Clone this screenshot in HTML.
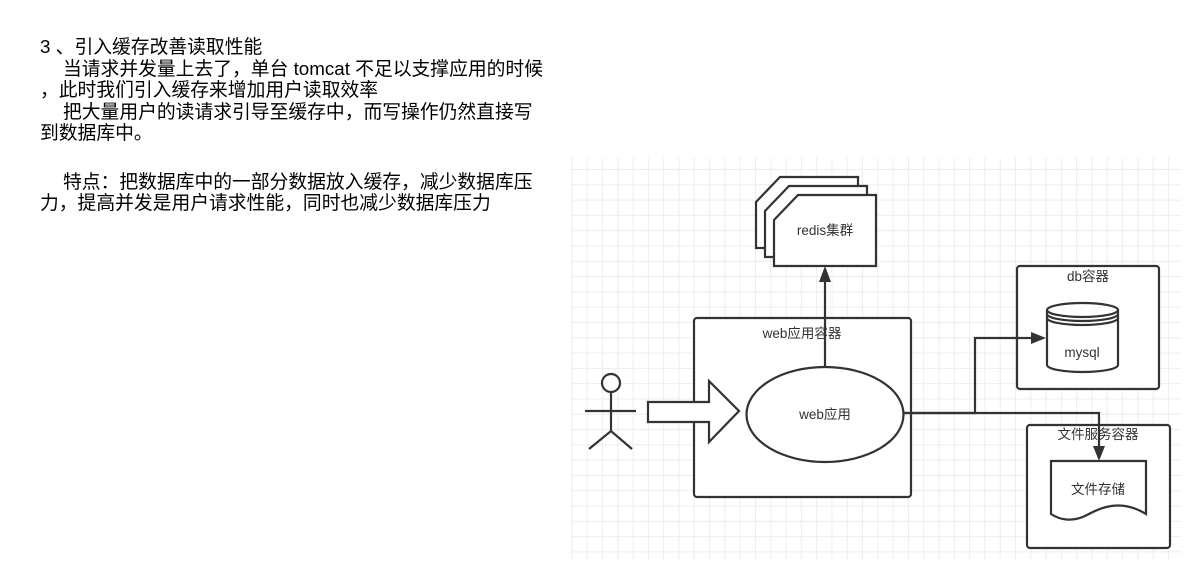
<!DOCTYPE html>
<html><head><meta charset="utf-8"><style>
html,body{margin:0;padding:0;background:#fff;}
body{width:1204px;height:588px;position:relative;overflow:hidden;font-family:"Liberation Sans","Noto Sans CJK SC",sans-serif;}
.t{position:absolute;left:40px;top:36px;font-size:18.8px;line-height:21.5px;color:#000;white-space:nowrap;}
.t div{height:21.5px;}
.t div.b{height:27px;}
.i{padding-left:23px;}
.grid{position:absolute;left:571px;top:158px;width:610px;height:401px;
background-image:linear-gradient(to right,#ededed 1px,transparent 1px),linear-gradient(to bottom,#ededed 1px,transparent 1px);
background-size:15.3px 15.3px;background-position:15.7px 11px;}
svg{position:absolute;left:0;top:0;}
svg text{font-family:"Liberation Sans","Noto Sans CJK SC",sans-serif;font-size:13.5px;fill:#333;text-anchor:middle;}
</style></head><body>
<div class="t">
<div>3 、引入缓存改善读取性能</div>
<div class="i">当请求并发量上去了，单台 tomcat 不足以支撑应用的时候</div>
<div>，此时我们引入缓存来增加用户读取效率</div>
<div class="i">把大量用户的读请求引导至缓存中，而写操作仍然直接写</div>
<div>到数据库中。</div>
<div class="b"></div>
<div class="i">特点：把数据库中的一部分数据放入缓存，减少数据库压</div>
<div>力，提高并发是用户请求性能，同时也减少数据库压力</div>
</div>
<div class="grid"></div>
<svg width="1204" height="588" viewBox="0 0 1204 588">
<g fill="#fff" stroke="#333" stroke-width="2.2">
<path d="M756,202 L780,177 L858,177 L858,248 L756,248 Z"/>
<path d="M765,211 L789,186 L867,186 L867,257 L765,257 Z"/>
<path d="M774,220 L798,195 L876,195 L876,266 L774,266 Z"/>
<rect x="694" y="318" width="217" height="179" rx="3"/>
<rect x="1017" y="266" width="142" height="123" rx="3"/>
<rect x="1027" y="425" width="143" height="123" rx="3"/>
<ellipse cx="825" cy="414.5" rx="78.5" ry="47.5"/>
<path d="M648,402 L709,402 L709,381 L739,411 L709,442 L709,422 L648,422 Z"/>
<circle cx="611" cy="383" r="9"/>
<path d="M1047,310 L1047,365 A35.5,7 0 0 0 1118,365 L1118,310 A35.5,7 0 0 0 1047,310 Z"/>
<path d="M1047,310 A35.5,7 0 0 0 1118,310 M1047,314 A35.5,7 0 0 0 1118,314 M1047,318 A35.5,7 0 0 0 1118,318" fill="none"/>
<path d="M1051,461 L1146,461 L1146,514 C1120,498 1100,508 1085,516 C1072,522 1060,520 1051,514 Z"/>
</g>
<g fill="none" stroke="#333" stroke-width="2.2">
<path d="M611,392 L611,431 M585,411 L636,411 M589,449 L611,431 L632,449"/>
<path d="M825,367 L825,278"/>
<path d="M903,413 L975,413 L975,338 L1033,338"/>
<path d="M903,413 L1099,413 L1099,447"/>
</g>
<g fill="#333">
<path d="M825,266 L819,282 L831,282 Z"/>
<path d="M1046,338 L1031,332 L1031,344 Z"/>
<path d="M1099,461 L1093,446 L1105,446 Z"/>
</g>
<text x="825" y="235">redis集群</text>
<text x="802" y="338">web应用容器</text>
<text x="825" y="419">web应用</text>
<text x="1088" y="281">db容器</text>
<text x="1082" y="357">mysql</text>
<text x="1098" y="439">文件服务容器</text>
<text x="1098" y="494">文件存储</text>
</svg>
</body></html>
